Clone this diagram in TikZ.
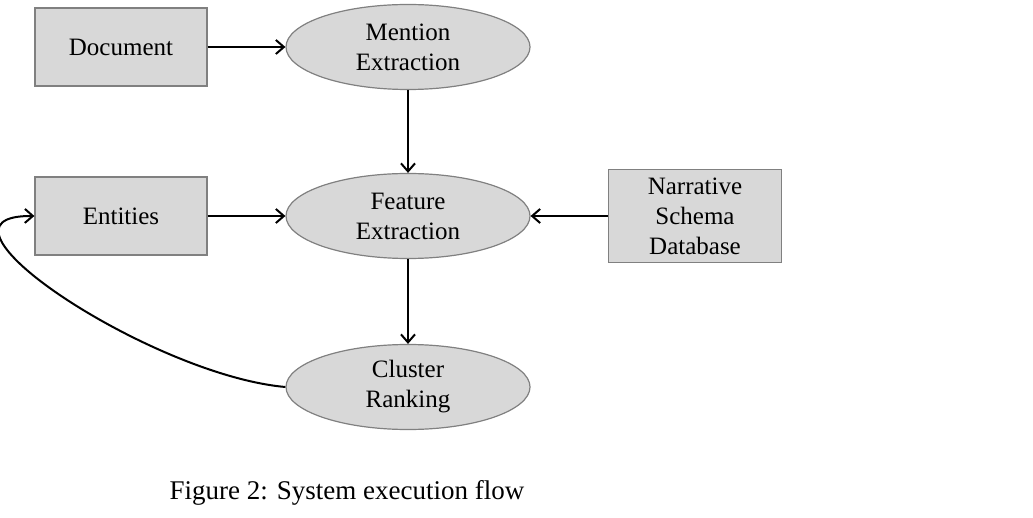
\documentclass[tikz,border=0pt]{standalone}
\usepackage{fontspec}
\setmainfont{Liberation Serif}
\usetikzlibrary{shapes.geometric, arrows.meta}

\definecolor{boxfill}{RGB}{216,216,216}
\definecolor{boxline}{RGB}{128,128,128}

\begin{document}
\begin{tikzpicture}[x=0.5pt, y=-0.5pt,
		every node/.style = {font=\fontsize{12.5}{15}\selectfont, align=center},
		box/.style = {draw=boxline, fill=boxfill, line width=0.6pt, minimum width=86pt, minimum height=39pt, inner sep=0pt},
		blob/.style = {ellipse, draw=boxline, fill=boxfill, line width=0.6pt, minimum width=122pt, minimum height=42.5pt, inner sep=0pt},
		flow/.style = {-{Straight Barb[length=4pt, width=7pt]}, line width=1pt}]
					\useasboundingbox (0,0) rectangle (1033,518);
					
					\node [box] (doc) at (121,47) {Document};
					\node [box] (ent) at (121,216) {Entities};
					\node [box, minimum width=86.5pt, minimum height=46.5pt] (nsd) at (695,216) {Narrative\\Schema\\Database};
					
					\node [blob] (men) at (408,47) {Mention\\Extraction};
					\node [blob] (fea) at (408,216) {Feature\\Extraction};
					\node [blob] (clu) at (408,387) {Cluster\\Ranking};
					
					\begin{scope}
						\draw [flow] (doc) -- (men);
						\draw [flow] (men) -- (fea);
						\draw [flow] (ent) -- (fea);
						\draw [flow] (nsd) -- (fea);
						\draw [flow] (fea) -- (clu);
						\draw [flow] (clu.west) .. controls (150,375) and (-90,215) .. (ent.west);
					\end{scope}
					
					\node [font=\fontsize{13.5}{16}\selectfont] (cap) at (347,493) {Figure 2: System execution flow};
				\end{tikzpicture}
\end{document}
